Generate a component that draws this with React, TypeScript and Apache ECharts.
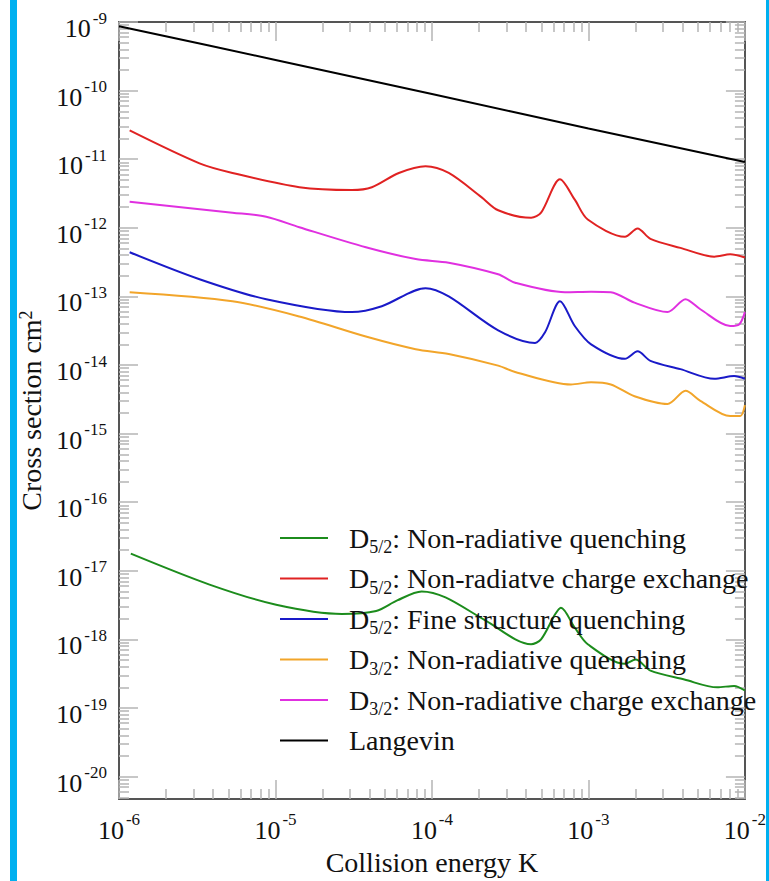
import React, { useEffect, useRef } from "react";
import * as echarts from "echarts";

// ---------- data ----------
const seriesNames = [
  "D5/2: Non-radiative quenching",
  "D5/2: Non-radiatve charge exchange",
  "D5/2: Fine structure quenching",
  "D3/2: Non-radiative quenching",
  "D3/2: Non-radiative charge exchange",
  "Langevin",
];
const legendSubs = ["5/2", "5/2", "5/2", "3/2", "3/2", ""];
const legendTexts = [
  ": Non-radiative quenching",
  ": Non-radiatve charge exchange",
  ": Fine structure quenching",
  ": Non-radiative quenching",
  ": Non-radiative charge exchange",
  "Langevin",
];

const greenE = [1.19e-6, 3.79e-6, 1.01e-5, 2.66e-5, 4.4e-5, 6.0e-5, 8.59e-5, 1.22e-4, 2.19e-4, 4.3e-4, 4.98e-4, 6.11e-4, 6.67e-4, 8.18e-4, 9.9e-4, 1.71e-3, 2.0e-3, 2.49e-3, 4.1e-3, 6.65e-3, 8.53e-3, 1e-2];
const greenSigma = [1.78e-17, 6.3e-18, 3.2e-18, 2.35e-18, 2.6e-18, 3.7e-18, 5.0e-18, 4.1e-18, 1.9e-18, 8.5e-19, 1.0e-18, 2.3e-18, 2.9e-18, 1.48e-18, 8.5e-19, 4.4e-19, 5.1e-19, 3.5e-19, 2.6e-19, 2.0e-19, 2.1e-19, 1.8e-19];

const redE = [1.17e-6, 3.27e-6, 5.31e-6, 1.42e-5, 3.08e-5, 4.13e-5, 6.14e-5, 9.1e-5, 1.28e-4, 2.07e-4, 2.65e-4, 4.3e-4, 4.98e-4, 6.58e-4, 8.18e-4, 9.9e-4, 1.71e-3, 2.06e-3, 2.49e-3, 3.87e-3, 6.37e-3, 8.05e-3, 1e-2];
const redSigma = [2.63e-11, 8.7e-12, 6.3e-12, 3.9e-12, 3.55e-12, 3.9e-12, 6.3e-12, 7.9e-12, 6.3e-12, 2.8e-12, 1.8e-12, 1.4e-12, 1.66e-12, 5.1e-12, 2.57e-12, 1.32e-12, 7.4e-13, 9.8e-13, 6.9e-13, 5.1e-13, 3.8e-13, 4.1e-13, 3.7e-13];

const blueE = [1.17e-6, 3.27e-6, 8.73e-6, 3.08e-5, 4.78e-5, 9.1e-5, 1.28e-4, 2.65e-4, 4.56e-4, 5.28e-4, 6.58e-4, 8.18e-4, 1.04e-3, 1.71e-3, 2.06e-3, 2.49e-3, 3.87e-3, 6.37e-3, 8.53e-3, 1e-2];
const blueSigma = [4.4e-13, 1.78e-13, 9.1e-14, 5.9e-14, 7.2e-14, 1.32e-13, 1.0e-13, 3.2e-14, 2.1e-14, 3.0e-14, 8.5e-14, 3.7e-14, 2.0e-14, 1.23e-14, 1.58e-14, 1.15e-14, 8.7e-15, 6.3e-15, 6.9e-15, 6.3e-15];

const orangeE = [1.17e-6, 5.31e-6, 1.42e-5, 3.78e-5, 7.87e-5, 1.28e-4, 2.65e-4, 3.4e-4, 7.73e-4, 1.04e-3, 1.39e-3, 1.97e-3, 3.2e-3, 4.17e-3, 5.19e-3, 8.05e-3, 9.33e-3, 1e-2];
const orangeSigma = [1.15e-13, 8.5e-14, 5.1e-14, 2.6e-14, 1.7e-14, 1.45e-14, 9.8e-15, 7.9e-15, 5.2e-15, 5.6e-15, 5.2e-15, 3.5e-15, 2.7e-15, 4.2e-15, 3.0e-15, 1.8e-15, 1.8e-15, 2.6e-15];

const magentaE = [1.17e-6, 5.31e-6, 8.73e-6, 1.42e-5, 3.78e-5, 7.87e-5, 1.28e-4, 2.65e-4, 3.4e-4, 7.08e-4, 1.04e-3, 1.39e-3, 1.97e-3, 3.2e-3, 4.17e-3, 5.19e-3, 8.05e-3, 9.18e-3, 1e-2];
const magentaSigma = [2.4e-12, 1.66e-12, 1.45e-12, 1.02e-12, 5.2e-13, 3.5e-13, 3.1e-13, 2.1e-13, 1.58e-13, 1.15e-13, 1.17e-13, 1.15e-13, 8.1e-14, 5.9e-14, 9.1e-14, 6.5e-14, 3.7e-14, 3.9e-14, 5.9e-14];

const langevinE = [1e-6, 1e-5, 1e-4, 1e-3, 1e-2];
const langevinSigma = [8.7e-10, 2.8e-10, 8.9e-11, 2.8e-11, 9.1e-12];

const xMajorTicks = [1e-6, 1e-5, 1e-4, 1e-3, 1e-2];
const yMajorTicks = [1e-20, 1e-19, 1e-18, 1e-17, 1e-16, 1e-15, 1e-14, 1e-13, 1e-12, 1e-11, 1e-10, 1e-9];

const colors = ["#1c8c1c", "#e02222", "#1a1ac8", "#f2a52a", "#e030e0", "#000000"];

// ---------- helpers ----------
const FONT = "'Liberation Serif', 'Times New Roman', serif";

function minorTicks(fromExp: number, toExp: number): number[] {
  const out: number[] = [];
  for (let e = fromExp; e <= toExp; e++) {
    for (let k = 2; k <= 9; k++) out.push(Number((k * Math.pow(10, e)).toPrecision(3)));
  }
  return out;
}

function zip(xs: number[], ys: number[]): number[][] {
  return xs.map((x, i) => [x, ys[i]]);
}

const powLabel = (v: number) => "{b|10}{s|" + Math.round(Math.log10(v)) + "}";

const labelRich = {
  b: { fontSize: 26, fontFamily: FONT, color: "#111", lineHeight: 38 },
  s: { fontSize: 17, fontFamily: FONT, color: "#111", lineHeight: 14, verticalAlign: "top", padding: [0, 0, 0, 2] },
};

const X_MIN = 1e-6;
const X_MAX = 1e-2;
const Y_MIN = 4.7e-21;
const Y_MAX = 1e-9;

const AXIS_COLOR = "#555";
const TICK_COLOR = "#b4b4b4";

export default function App() {
  const ref = useRef<HTMLDivElement>(null);

  useEffect(() => {
    if (!ref.current) return;
    const chart = echarts.init(ref.current, null, { renderer: "svg" });

    const xMinor = minorTicks(-6, -3);
    const yMinor = minorTicks(-21, -10).filter((v) => v >= Y_MIN && v <= Y_MAX);

    const baseX = {
      type: "log" as const,
      logBase: 10,
      min: X_MIN,
      max: X_MAX,
      splitLine: { show: false },
      minorSplitLine: { show: false },
    };
    const baseY = {
      type: "log" as const,
      logBase: 10,
      min: Y_MIN,
      max: Y_MAX,
      splitLine: { show: false },
      minorSplitLine: { show: false },
    };

    const datasets = [
      zip(greenE, greenSigma),
      zip(redE, redSigma),
      zip(blueE, blueSigma),
      zip(orangeE, orangeSigma),
      zip(magentaE, magentaSigma),
      zip(langevinE, langevinSigma),
    ];

    const option: any = {
      animation: false,
      backgroundColor: "#ffffff",
      grid: { left: 119, right: 22, top: 22, bottom: 78, containLabel: false },
      graphic: [
        { type: "rect", left: 10, top: 0, shape: { width: 7, height: 881 }, style: { fill: "#00b0f0" }, silent: true },
        { type: "rect", left: 766, top: 0, shape: { width: 3, height: 881 }, style: { fill: "#00b0f0" }, silent: true },
      ],
      xAxis: [
        {
          ...baseX,
          position: "bottom",
          name: "Collision energy K",
          nameLocation: "middle",
          nameGap: 40,
          nameTextStyle: { fontSize: 28, fontFamily: FONT, color: "#111" },
          axisLine: { show: true, onZero: false, lineStyle: { color: AXIS_COLOR, width: 2 } },
          axisTick: { show: true, inside: true, length: 19, customValues: xMajorTicks, lineStyle: { color: TICK_COLOR, width: 1.5 } },
          axisLabel: { show: true, customValues: xMajorTicks, margin: 12, formatter: powLabel, rich: labelRich },
        },
        {
          ...baseX,
          position: "bottom",
          axisLine: { show: false, onZero: false },
          axisTick: { show: true, inside: true, length: 10, customValues: xMinor, lineStyle: { color: TICK_COLOR, width: 1.5 } },
          axisLabel: { show: false },
        },
        {
          ...baseX,
          position: "top",
          axisLine: { show: true, onZero: false, lineStyle: { color: AXIS_COLOR, width: 2 } },
          axisTick: { show: true, inside: true, length: 19, customValues: xMajorTicks, lineStyle: { color: TICK_COLOR, width: 1.5 } },
          axisLabel: { show: false },
        },
        {
          ...baseX,
          position: "top",
          axisLine: { show: false, onZero: false },
          axisTick: { show: true, inside: true, length: 10, customValues: xMinor, lineStyle: { color: TICK_COLOR, width: 1.5 } },
          axisLabel: { show: false },
        },
      ],
      yAxis: [
        {
          ...baseY,
          position: "left",
          name: "Cross section cm{s|2}",
          nameLocation: "middle",
          nameGap: 73,
          nameTextStyle: {
            fontSize: 28,
            fontFamily: FONT,
            color: "#111",
            rich: {
              s: { fontSize: 18, fontFamily: FONT, color: "#111", lineHeight: 14, verticalAlign: "top" },
            },
          },
          axisLine: { show: true, onZero: false, lineStyle: { color: AXIS_COLOR, width: 2 } },
          axisTick: { show: true, inside: true, length: 19, customValues: yMajorTicks, lineStyle: { color: TICK_COLOR, width: 1.5 } },
          axisLabel: { show: true, customValues: yMajorTicks, margin: 12, formatter: powLabel, rich: labelRich, padding: [13, 0, 0, 0] },
        },
        {
          ...baseY,
          position: "left",
          axisLine: { show: false, onZero: false },
          axisTick: { show: true, inside: true, length: 10, customValues: yMinor, lineStyle: { color: TICK_COLOR, width: 1.5 } },
          axisLabel: { show: false },
        },
        {
          ...baseY,
          position: "right",
          axisLine: { show: true, onZero: false, lineStyle: { color: AXIS_COLOR, width: 2 } },
          axisTick: { show: true, inside: true, length: 19, customValues: yMajorTicks, lineStyle: { color: TICK_COLOR, width: 1.5 } },
          axisLabel: { show: false },
        },
        {
          ...baseY,
          position: "right",
          axisLine: { show: false, onZero: false },
          axisTick: { show: true, inside: true, length: 10, customValues: yMinor, lineStyle: { color: TICK_COLOR, width: 1.5 } },
          axisLabel: { show: false },
        },
      ],
      legend: {
        orient: "vertical",
        left: 280,
        top: 524,
        padding: 0,
        itemGap: 8.5,
        itemWidth: 48,
        itemHeight: 2,
        icon: "rect",
        data: seriesNames,
        formatter: (name: string) => {
          const i = seriesNames.indexOf(name);
          if (!legendSubs[i]) return "{b|" + legendTexts[i] + "}";
          return "{b|D}{sub|" + legendSubs[i] + "}{b|" + legendTexts[i] + "}";
        },
        textStyle: {
          fontSize: 28,
          fontFamily: FONT,
          color: "#111",
          padding: [0, 0, 0, 16],
          rich: {
            b: { fontSize: 28, fontFamily: FONT, color: "#111", lineHeight: 36 },
            sub: { fontSize: 18, fontFamily: FONT, color: "#111", lineHeight: 14, verticalAlign: "bottom" },
          },
        },
      },
      series: seriesNames.map((name, i) => ({
        name,
        type: "line",
        xAxisIndex: 0,
        yAxisIndex: 0,
        data: datasets[i],
        symbol: "none",
        showSymbol: false,
        smooth: 0.3,
        color: colors[i],
        lineStyle: { color: colors[i], width: 2 },
        z: 3,
      })),
    };

    chart.setOption(option);
    return () => chart.dispose();
  }, []);

  return (
    <div
      ref={ref}
      style={{ position: "fixed", left: 0, top: 0, width: 769, height: 881, background: "#fff" }}
    />
  );
}
